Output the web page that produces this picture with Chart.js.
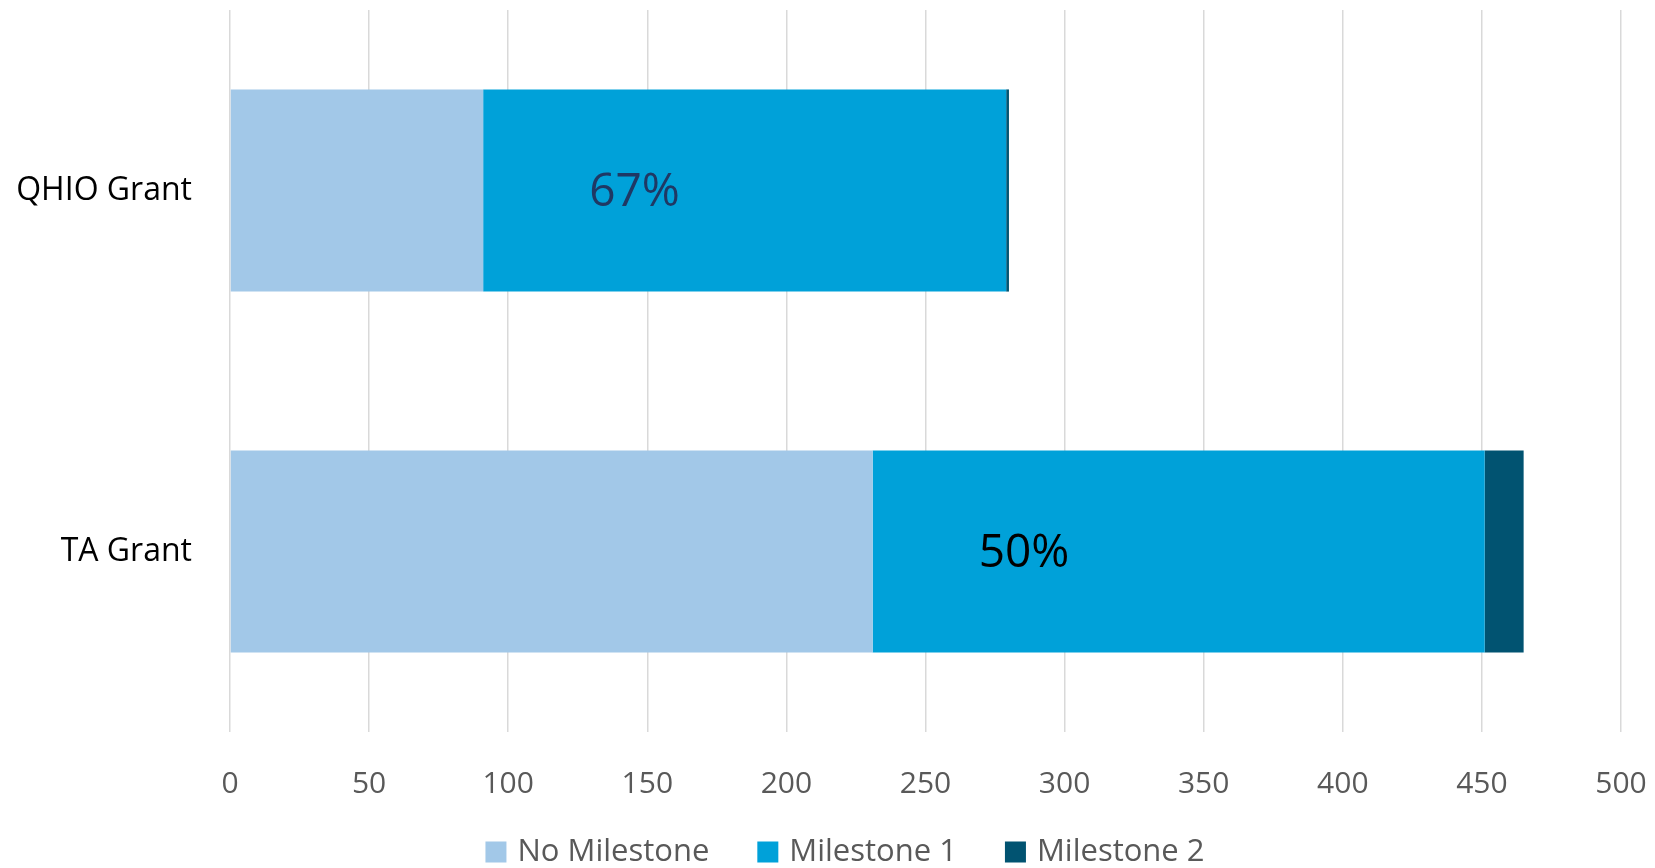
<!DOCTYPE html>
<html>
<head>
<meta charset="utf-8">
<script src="https://cdn.jsdelivr.net/npm/chart.js@4.4.1/dist/chart.umd.min.js"></script>
<style>
  html, body { margin: 0; padding: 0; background: #fff; }
  #wrap { width: 1655px; height: 868px; }
</style>
</head>
<body>
<div id="wrap"><canvas id="grafico" width="1655" height="868"></canvas></div>
<script>
const categorias = ['QHIO Grant', 'TA Grant']
const noMilestone = [91, 231]
const milestone1 = [188, 220]
const milestone2 = [1, 14]
const rotulos = ['67%', '50%']
const coresRotulos = ['#1f3864', '#000000']
const xTicks = [0, 50, 100, 150, 200, 250, 300, 350, 400, 450, 500]

const fonte = "'Open Sans', 'Noto Sans', sans-serif"

// texto de porcentagem dentro do Milestone 1
const rotuloPlugin = {
    id: 'rotuloPlugin',
    afterDatasetsDraw(chart){
        const ctx = chart.ctx
        const meta = chart.getDatasetMeta(1)
        ctx.save()
        ctx.font = '46px ' + fonte
        ctx.textAlign = 'left'
        ctx.textBaseline = 'middle'
        meta.data.forEach((bar, i) => {
            ctx.fillStyle = coresRotulos[i]
            ctx.fillText(rotulos[i], bar.base + 106, bar.y + 2)
        })
        ctx.restore()
    }
}

// legenda desenhada a mao
const legendaPlugin = {
    id: 'legendaPlugin',
    afterDraw(chart){
        const ctx = chart.ctx
        const box = 21, gap = 11, espaco = 48
        ctx.save()
        ctx.font = '31px ' + fonte
        ctx.textBaseline = 'middle'
        const itens = chart.data.datasets.map(d => ({texto: d.label, cor: d.backgroundColor, w: ctx.measureText(d.label).width}))
        let total = 0
        itens.forEach((it, i) => { total += box + gap + it.w + (i < itens.length - 1 ? espaco : 0) })
        let x = 845 - total / 2
        const y = 852
        itens.forEach(it => {
            ctx.fillStyle = it.cor
            ctx.fillRect(x, y - box / 2, box, box)
            ctx.fillStyle = '#595959'
            ctx.fillText(it.texto, x + box + gap, y)
            x += box + gap + it.w + espaco
        })
        ctx.restore()
    }
}

function semPadding(scale){
    scale.paddingLeft = 0
    scale.paddingRight = 0
    scale.paddingTop = 0
    scale.paddingBottom = 0
}

function plotaGrafico(){
    const data = {
        labels: categorias,
        datasets: [
            { label: 'No Milestone', data: noMilestone, backgroundColor: '#a2c8e8' },
            { label: 'Milestone 1', data: milestone1, backgroundColor: '#00a1d9' },
            { label: 'Milestone 2', data: milestone2, backgroundColor: '#015371' }
        ]
    }
    data.datasets.forEach(d => {
        d.borderWidth = 0
        d.barPercentage = 0.56
        d.categoryPercentage = 1
    })
    const config = {
        type: 'bar',
        data: data,
        plugins: [rotuloPlugin, legendaPlugin],
        options: {
            indexAxis: 'y',
            responsive: false,
            animation: false,
            layout: { padding: { top: 10, right: 34, left: 0, bottom: 66 } },
            plugins: {
                legend: { display: false },
                tooltip: { enabled: false }
            },
            scales: {
                x: {
                    stacked: true,
                    min: 0,
                    max: 500,
                    afterBuildTicks: (scale) => { scale.ticks = xTicks.map(v => ({value: v})) },
                    afterFit: (scale) => { scale.height = 70; semPadding(scale) },
                    grid: { color: '#d9d9d9', lineWidth: 1.5, drawTicks: false },
                    border: { display: false },
                    ticks: { color: '#595959', padding: 34, font: { size: 30, family: fonte } }
                },
                y: {
                    stacked: true,
                    afterFit: (scale) => { scale.width = 230; semPadding(scale) },
                    grid: { display: false, drawTicks: false },
                    border: { display: false },
                    ticks: { color: '#000000', padding: 38, font: { size: 32, family: fonte } }
                }
            }
        }
    }
    const grafico = document.getElementById('grafico')
    return new Chart(grafico, config)
}

plotaGrafico()
</script>
</body>
</html>
